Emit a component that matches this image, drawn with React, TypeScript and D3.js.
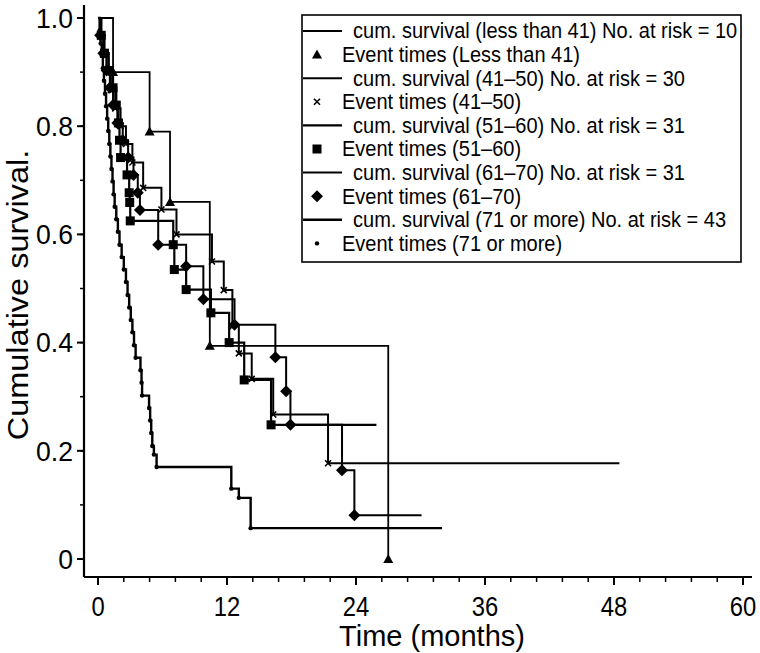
import React from "react";
import * as d3 from "d3";

// ---- data ----
// each step: [time (months), survival after the event]
const lt41Steps: [number, number][] = [[1.4, 0.9], [4.8, 0.79], [6.7, 0.66], [10.4, 0.394], [27.0, 0]];
const lt41End = 27.0;

const a4150Steps: [number, number][] = [
  [0.3, 0.967], [0.5, 0.933], [0.8, 0.9], [1.2, 0.867], [1.6, 0.833], [2.1, 0.8], [2.6, 0.767],
  [3.2, 0.733], [4.2, 0.686], [5.9, 0.646], [7.3, 0.6], [10.6, 0.55], [11.7, 0.497], [12.5, 0.43],
  [13.1, 0.38], [14.3, 0.333], [16.3, 0.267], [21.4, 0.177],
];
const a4150End = 48.5;

const a5160Steps: [number, number][] = [
  [0.3, 0.968], [0.6, 0.935], [1.0, 0.903], [1.4, 0.871], [1.7, 0.839], [1.9, 0.806], [2.0, 0.774],
  [2.1, 0.742], [2.7, 0.71], [2.9, 0.677], [2.95, 0.659], [3.0, 0.625], [7.0, 0.581], [7.1, 0.535],
  [8.2, 0.498], [10.5, 0.455], [12.2, 0.4], [13.6, 0.331], [16.1, 0.248],
];
const a5160End = 25.9;

const a6170Steps: [number, number][] = [
  [0.2, 0.968], [0.5, 0.935], [0.8, 0.903], [1.1, 0.871], [1.4, 0.839], [1.8, 0.806], [2.3, 0.774],
  [2.8, 0.742], [3.3, 0.71], [3.7, 0.677], [3.9, 0.645], [5.6, 0.581], [8.2, 0.541], [9.8, 0.48],
  [12.7, 0.433], [16.5, 0.373], [17.5, 0.31], [17.9, 0.248], [22.7, 0.164], [23.85, 0.081],
];
const a6170End = 30.1;

const ge71Steps: [number, number][] = [
  [0.15, 0.977], [0.25, 0.953], [0.35, 0.93], [0.45, 0.907], [0.55, 0.884], [0.65, 0.86], [0.75, 0.837],
  [0.85, 0.814], [0.95, 0.791], [1.05, 0.767], [1.15, 0.744], [1.25, 0.721], [1.35, 0.698], [1.45, 0.674],
  [1.55, 0.651], [1.7, 0.628], [1.85, 0.605], [2.0, 0.581], [2.2, 0.558], [2.4, 0.535], [2.6, 0.512],
  [2.75, 0.488], [2.9, 0.465], [3.05, 0.442], [3.2, 0.419], [3.35, 0.395], [3.5, 0.372], [3.95, 0.349],
  [4.05, 0.326], [4.1, 0.302], [4.75, 0.279], [4.85, 0.256], [4.95, 0.233], [5.05, 0.209], [5.2, 0.193],
  [5.45, 0.17], [12.4, 0.13], [13.1, 0.113], [14.2, 0.057],
];
const ge71End = 32.0;

const xMajorTicks = [0, 12, 24, 36, 48, 60];
const yMajorTicks = [0, 0.2, 0.4, 0.6, 0.8, 1.0];
const yTickLabels = ["0", "0.2", "0.4", "0.6", "0.8", "1.0"];

const legendLabels = [
  "cum. survival (less than 41) No. at risk = 10",
  "Event times (Less than 41)",
  "cum. survival (41\u201350) No. at risk = 30",
  "Event times (41\u201350)",
  "cum. survival (51\u201360) No. at risk = 31",
  "Event times (51\u201360)",
  "cum. survival (61\u201370) No. at risk = 31",
  "Event times (61\u201370)",
  "cum. survival (71 or more) No. at risk = 43",
  "Event times (71 or more)",
];

type MarkerKind = "triangle" | "cross" | "square" | "diamond" | "dot";

const series = [
  { steps: lt41Steps, end: lt41End, marker: "triangle" as MarkerKind, width: 1.8 },
  { steps: a4150Steps, end: a4150End, marker: "cross" as MarkerKind, width: 2.0 },
  { steps: a5160Steps, end: a5160End, marker: "square" as MarkerKind, width: 2.2 },
  { steps: a6170Steps, end: a6170End, marker: "diamond" as MarkerKind, width: 2.0 },
  { steps: ge71Steps, end: ge71End, marker: "dot" as MarkerKind, width: 2.4 },
];

const W = 760;
const H = 653;
const FONT = "'Liberation Sans', Arial, Helvetica, sans-serif";

const x = d3.scaleLinear().domain([0, 60]).range([98, 743]);
const y = d3.scaleLinear().domain([0, 1]).range([559, 18]);

const AXIS_X = 84;
const AXIS_Y = 577;

function Marker({ kind, cx, cy }: { kind: MarkerKind; cx: number; cy: number }) {
  switch (kind) {
    case "triangle":
      return <path d={`M${cx},${cy - 5}L${cx + 5},${cy + 4}L${cx - 5},${cy + 4}Z`} fill="#000" />;
    case "square":
      return <rect x={cx - 4.5} y={cy - 4.5} width={9} height={9} fill="#000" />;
    case "diamond":
      return <path d={`M${cx},${cy - 6}L${cx + 6},${cy}L${cx},${cy + 6}L${cx - 6},${cy}Z`} fill="#000" />;
    case "cross":
      return (
        <path
          d={`M${cx - 3},${cy - 3}L${cx + 3},${cy + 3}M${cx - 3},${cy + 3}L${cx + 3},${cy - 3}`}
          stroke="#000"
          strokeWidth={1.6}
        />
      );
    default:
      return <circle cx={cx} cy={cy} r={2.2} fill="#000" />;
  }
}

function NText({
  x: tx,
  y: ty,
  size,
  anchor = "start",
  sx = 0.9,
  rotate = 0,
  children,
}: {
  x: number;
  y: number;
  size: number;
  anchor?: string;
  sx?: number;
  rotate?: number;
  children: React.ReactNode;
}) {
  return (
    <g transform={`translate(${tx},${ty}) rotate(${rotate}) scale(${sx},1)`}>
      <text x={0} y={0} fontSize={size} fontFamily={FONT} textAnchor={anchor as any} dominantBaseline="central" fill="#000">
        {children}
      </text>
    </g>
  );
}

export default function App() {
  const line = d3
    .line<[number, number]>()
    .x((d) => x(d[0]))
    .y((d) => y(d[1]))
    .curve(d3.curveStepAfter);

  const xMinor = d3.range(0, 60.001, 2.4);
  const yMinor = d3.range(0, 1.0001, 0.1);

  const legendRowY = (i: number) => 31 + i * 23.6;

  return (
    <svg width={W} height={H} style={{ display: "block", position: "absolute", left: 0, top: 0, background: "#fff" }}>
      <rect x={0} y={0} width={W} height={H} fill="#fff" />

      {/* curves */}
      {series.map((s, i) => {
        const pts: [number, number][] = [[0, 1], ...s.steps];
        const last = pts[pts.length - 1];
        if (s.end > last[0]) pts.push([s.end, last[1]]);
        return (
          <g key={i}>
            <path d={line(pts) || ""} fill="none" stroke="#000" strokeWidth={s.width} />
            {s.steps.map((p, j) => (
              <Marker key={j} kind={s.marker} cx={x(p[0])} cy={y(p[1])} />
            ))}
          </g>
        );
      })}

      {/* axes */}
      <line x1={AXIS_X} y1={AXIS_Y} x2={752} y2={AXIS_Y} stroke="#000" strokeWidth={2.2} />
      <line x1={AXIS_X} y1={AXIS_Y} x2={AXIS_X} y2={5} stroke="#000" strokeWidth={2.2} />
      {xMinor.map((t, i) => (
        <line key={"xm" + i} x1={x(t)} x2={x(t)} y1={AXIS_Y} y2={AXIS_Y + 5} stroke="#000" strokeWidth={1.5} />
      ))}
      {xMajorTicks.map((t) => (
        <g key={"xM" + t}>
          <line x1={x(t)} x2={x(t)} y1={AXIS_Y} y2={AXIS_Y + 8} stroke="#000" strokeWidth={2} />
          <NText x={x(t)} y={606} size={28} anchor="middle" sx={0.85}>
            {String(t)}
          </NText>
        </g>
      ))}
      {yMinor.map((v, i) => (
        <line key={"ym" + i} x1={AXIS_X - 4} x2={AXIS_X} y1={y(v)} y2={y(v)} stroke="#000" strokeWidth={1.5} />
      ))}
      {yMajorTicks.map((v, i) => (
        <g key={"yM" + i}>
          <line x1={AXIS_X - 7} x2={AXIS_X} y1={y(v)} y2={y(v)} stroke="#000" strokeWidth={2} />
          <NText x={73} y={y(v)} size={28} anchor="end" sx={0.95}>
            {yTickLabels[i]}
          </NText>
        </g>
      ))}
      <NText x={432} y={636} size={29} anchor="middle" sx={1.0}>
        Time (months)
      </NText>
      <NText x={18} y={295} size={29} anchor="middle" rotate={-90} sx={1.12}>
        Cumulative survival.
      </NText>

      {/* legend */}
      <rect x={302} y={15} width={439} height={247} fill="#fff" stroke="#000" strokeWidth={1.6} />
      {legendLabels.map((lab, i) => {
        const cy = legendRowY(i);
        const isLine = i % 2 === 0;
        const s = series[Math.floor(i / 2)];
        return (
          <g key={"lg" + i}>
            {isLine ? (
              <line x1={303} x2={342} y1={cy} y2={cy} stroke="#000" strokeWidth={s.width} />
            ) : (
              <Marker kind={s.marker} cx={317} cy={cy} />
            )}
            <NText x={isLine ? 353 : 342} y={cy} size={22.5} sx={0.89}>
              {lab}
            </NText>
          </g>
        );
      })}
    </svg>
  );
}
